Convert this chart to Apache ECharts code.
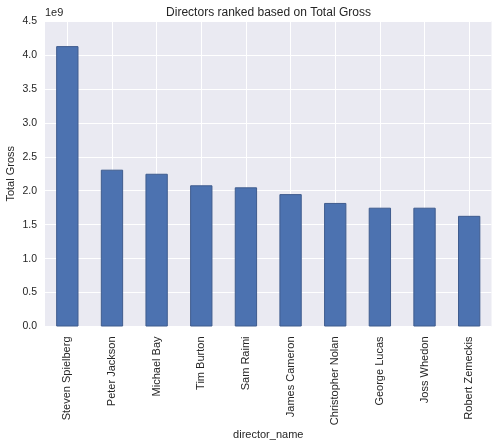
<!DOCTYPE html>
<html>
<head>
<meta charset="utf-8">
<style>html,body{margin:0;padding:0;background:#fff}#c{width:498px;height:446px}</style>
<script src="https://cdn.jsdelivr.net/npm/echarts@6/dist/echarts.min.js"></script>
</head>
<body>
<div id="c"></div>
<script>
const directors = ["Steven Spielberg","Peter Jackson","Michael Bay","Tim Burton","Sam Raimi","James Cameron","Christopher Nolan","George Lucas","Joss Whedon","Robert Zemeckis"];
const totalGross = [4.13e9,2.31e9,2.25e9,2.08e9,2.05e9,1.95e9,1.82e9,1.75e9,1.75e9,1.63e9];
const titleText = "Directors ranked based on Total Gross";
const offsetText = "1e9";
const font = "'Liberation Sans', Arial, sans-serif";
const chart = echarts.init(document.getElementById('c'), null, {renderer:'canvas'});
chart.setOption({
  animation:false,
  backgroundColor:'#fff',
  title:[
    {text:titleText,left:263.5,top:2,textAlign:'center',textStyle:{fontFamily:font,fontSize:12,fontWeight:'normal',color:'#262626'}},
    {text:offsetText,left:40,top:2,textStyle:{fontFamily:font,fontSize:11,fontWeight:'normal',color:'#262626'}}
  ],
  grid:{left:45,right:6.5,top:21,bottom:119.5,outerBoundsMode:'none',backgroundColor:'#eaeaf2',show:true,borderWidth:0},
  xAxis:{
    type:'category',data:directors,name:'director_name',nameLocation:'middle',nameGap:108,nameMoveOverlap:false,
    nameTextStyle:{fontFamily:font,fontSize:11,color:'#262626',verticalAlign:'middle'},
    axisLine:{show:false},axisTick:{show:false},
    axisLabel:{rotate:90,interval:0,margin:10,fontFamily:font,fontSize:11,color:'#262626'},
    splitLine:{show:true,alignWithLabel:true,interval:0,lineStyle:{color:'#fff',width:1}}
  },
  yAxis:{
    type:'value',min:0,max:4.5e9,interval:0.5e9,name:'Total Gross',nameLocation:'middle',nameGap:34,nameMoveOverlap:false,
    nameTextStyle:{fontFamily:font,fontSize:11,color:'#262626',verticalAlign:'middle'},
    axisLine:{show:false},axisTick:{show:false},
    axisLabel:{margin:8,fontFamily:font,fontSize:10.5,color:'#262626',padding:[2,0,0,0],formatter:v=>(v/1e9).toFixed(1)},
    splitLine:{show:true,lineStyle:{color:'#fff',width:1}}
  },
  series:[{type:'bar',data:totalGross,barWidth:'50%',
    itemStyle:{color:'#4c72b0',borderColor:'#3f5c8e',borderWidth:1}}]
});
</script>
</body>
</html>
